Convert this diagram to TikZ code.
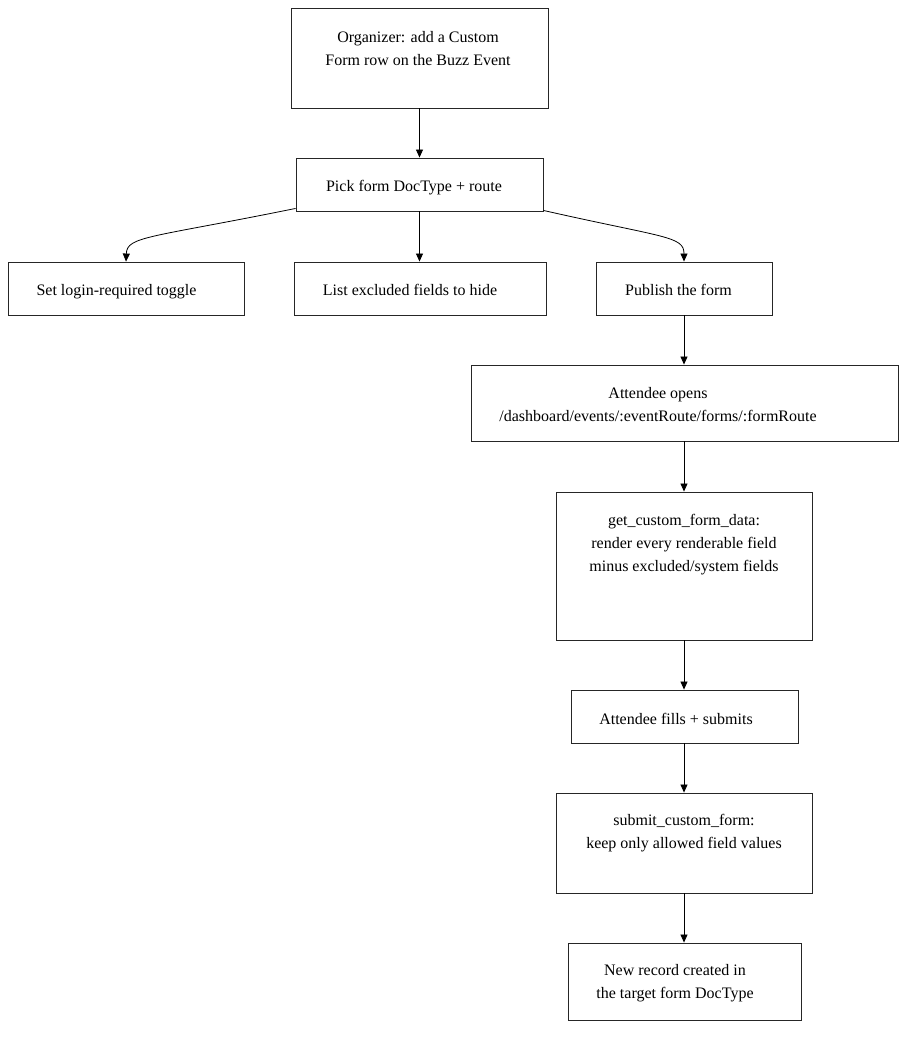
\documentclass[tikz,border=0pt]{standalone}
\usepackage{fontspec}
\setmainfont{Liberation Serif}
\usetikzlibrary{arrows.meta}
\begin{document}
\begin{tikzpicture}[x=1pt,y=-1pt,
  box/.style={draw=black!85, line width=0.9pt, rectangle, inner sep=0pt},
  txt/.style={align=center, font=\fontsize{16}{23}\selectfont, inner sep=0pt},
  one/.style={txt, text depth=0pt, text height=11pt},
  conn/.style={draw=black, line width=0.8pt, -{Triangle[length=8pt,width=7pt]}}]
\useasboundingbox (0,0) rectangle (914,1038);

% boxes
\node[box, minimum width=257pt, minimum height=100pt] (n1) at (419.5,58) {};
\node[box, minimum width=247pt, minimum height=53pt] (n2) at (419.5,184.5) {};
\node[box, minimum width=236pt, minimum height=53pt] (n3) at (126,288.5) {};
\node[box, minimum width=252pt, minimum height=53pt] (n4) at (420,288.5) {};
\node[box, minimum width=176pt, minimum height=53pt] (n5) at (684,288.5) {};
\node[box, minimum width=427pt, minimum height=76pt] (n6) at (684.5,403) {};
\node[box, minimum width=256pt, minimum height=148pt] (n7) at (684,566) {};
\node[box, minimum width=227pt, minimum height=53pt] (n8) at (684.5,716.5) {};
\node[box, minimum width=256pt, minimum height=100pt] (n9) at (684,843) {};
\node[box, minimum width=233pt, minimum height=77pt] (n10) at (684.5,981.5) {};

% texts
\node[txt] (t1) at (418,49) {Organizer: add a Custom\\Form row on the Buzz Event};
\node[one] (t2) at (414,186) {Pick form DocType + route};
\node[one] (t3) at (116.5,289.5) {Set login-required toggle};
\node[one] (t4) at (410,289.5) {List excluded fields to hide};
\node[one] (t5) at (678.5,289.5) {Publish the form};
\node[txt] (t6) at (658,405) {Attendee opens\\/dashboard/events/:eventRoute/forms/:formRoute};
\node[txt] (t7) at (684,544.5) {get\_custom\_form\_data:\\render every renderable field\\minus excluded/system fields};
\node[one] (t8) at (676,718.5) {Attendee fills + submits};
\node[txt] (t9) at (684,833.5) {submit\_custom\_form:\\keep only allowed field values};
\node[txt] (t10) at (675,983.5) {New record created in\\the target form DocType};

% connectors
\draw[conn] (n1.south) -- (n1.south |- n2.north);
\draw[conn] ([yshift=3pt]n2.south west) .. controls (150,238) and (127,236) .. (n3.north);
\draw[conn] (n2.south) -- (n2.south |- n4.north);
\draw[conn] ([yshift=1pt]n2.south east) .. controls (665,238) and (684,236) .. (n5.north);
\draw[conn] (n5.south) -- (n5.south |- n6.north);
\draw[conn] (n7.north |- n6.south) -- (n7.north);
\draw[conn] (n7.south) -- (n7.south |- n8.north);
\draw[conn] (n9.north |- n8.south) -- (n9.north);
\draw[conn] (n9.south) -- (n9.south |- n10.north);
\end{tikzpicture}
\end{document}
